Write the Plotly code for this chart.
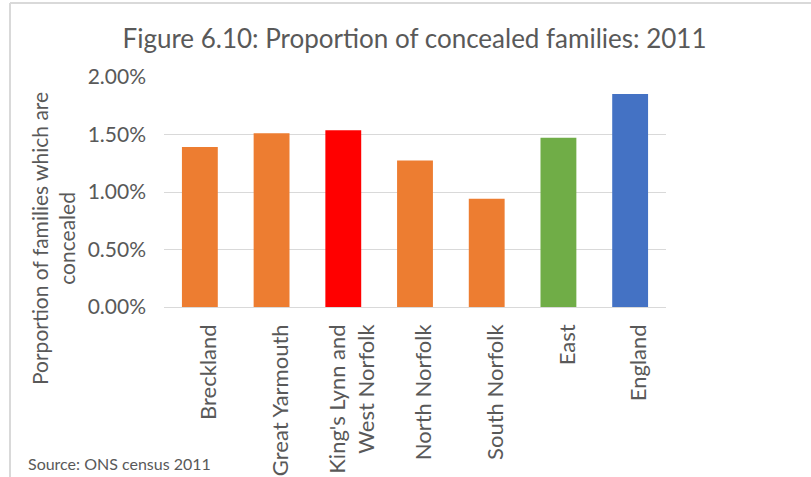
import plotly.graph_objects as go

categories = ["Breckland", "Great Yarmouth", "King's Lynn and<br>West Norfolk",
              "North Norfolk", "South Norfolk", "East", "England"]
values = [0.01391, 0.01510, 0.01536, 0.01275, 0.00942, 0.01472, 0.01852]
bar_colors = ["#ED7D31", "#ED7D31", "#FF0000", "#ED7D31", "#ED7D31", "#70AD47", "#4472C4"]
y_ticks = [0, 0.005, 0.01, 0.015, 0.02]

W, H = 811, 477
L, R, T, B = 164, 666, 77, 307  # plot area in px

def px_x(px):
    return (px - L) / (R - L)

def px_y(py):
    return (B - py) / (B - T)

FONT = "Lato"
GRAY = "#595959"

fig = go.Figure(go.Bar(
    x=categories, y=values,
    marker=dict(color=bar_colors, line=dict(width=0)),
    hoverinfo="x+y",
))

fig.update_layout(
    width=W, height=H,
    margin=dict(l=L, r=W - R, t=T, b=H - B, pad=0, autoexpand=False),
    paper_bgcolor="white", plot_bgcolor="white",
    bargap=0.5,
    showlegend=False,
    font=dict(family=FONT, color=GRAY),
    title=dict(text="Figure 6.10: Proportion of concealed families: 2011",
               x=414.5 / W, xanchor="center", xref="container",
               y=1 - 39 / H, yanchor="middle", yref="container",
               font=dict(family=FONT, size=26, color=GRAY)),
)

fig.update_xaxes(
    automargin=False,
    showgrid=False, showline=False, zeroline=False,
    tickangle=-90, ticks="", ticklabelstandoff=12, ticklabelshift=9,
    tickfont=dict(family=FONT, size=22, color=GRAY),
)
fig.update_yaxes(
    automargin=False,
    range=[0, 0.02], tickvals=y_ticks, tickformat=".2%",
    showgrid=True, gridcolor="#d9d9d9", gridwidth=1,
    zeroline=True, zerolinecolor="#d9d9d9", zerolinewidth=1,
    showline=False, ticks="", ticklabelstandoff=17,
    tickfont=dict(family=FONT, size=21, color=GRAY),
)

fig.add_annotation(
    text="Porportion of families which are<br>concealed",
    xref="paper", yref="paper", x=px_x(53), y=px_y(239),
    xanchor="center", yanchor="middle", textangle=-90, showarrow=False,
    font=dict(family=FONT, size=21, color=GRAY),
)
fig.add_annotation(
    text="Source: ONS census 2011",
    xref="paper", yref="paper", x=px_x(26), y=px_y(463),
    xanchor="left", yanchor="middle", showarrow=False,
    font=dict(family=FONT, size=16, color=GRAY),
)

# chart-area border (left and top edges visible)
fig.add_shape(type="line", xref="paper", yref="paper",
              x0=px_x(10), x1=px_x(10), y0=px_y(H + 5), y1=px_y(3),
              line=dict(color="#d9d9d9", width=2))
fig.add_shape(type="line", xref="paper", yref="paper",
              x0=px_x(10), x1=px_x(W + 5), y0=px_y(3), y1=px_y(3),
              line=dict(color="#d9d9d9", width=2))

fig.write_html("out.html", config={"displayModeBar": False},
               post_script="document.body.style.margin='0';document.body.style.padding='0';")
